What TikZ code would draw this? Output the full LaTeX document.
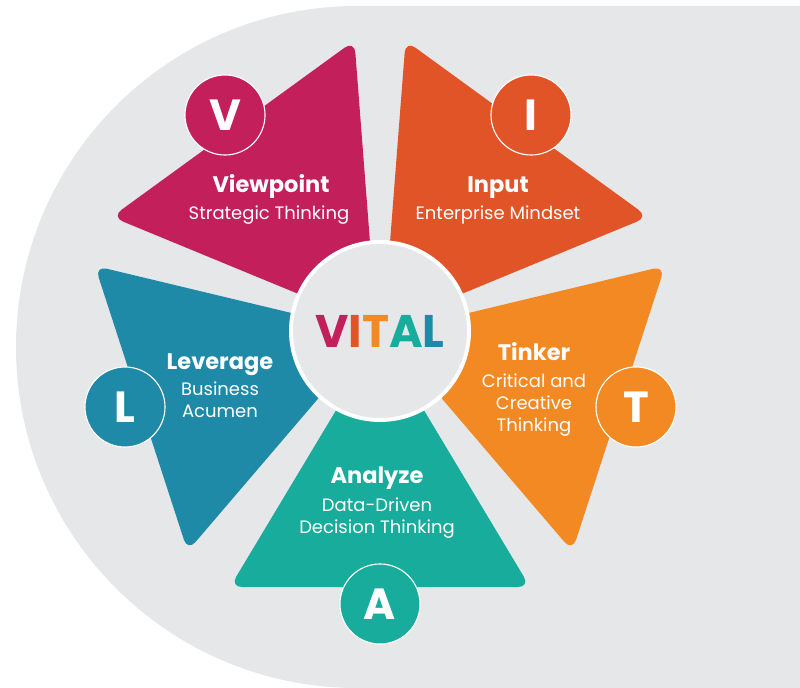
\documentclass[tikz,border=0pt]{standalone}
\usepackage{fontspec}
\setmainfont{Poppins}
\usetikzlibrary{positioning}
\definecolor{Magenta}{HTML}{C21F5B}
\definecolor{Rust}{HTML}{E05428}
\definecolor{Orange}{HTML}{F28923}
\definecolor{Teal}{HTML}{18AC9C}
\definecolor{Blue}{HTML}{1E8AA7}
\definecolor{Mist}{HTML}{E6E7E9}

\begin{document}
\begin{tikzpicture}[x=0.025cm,y=-0.025cm,
    petal/.style={rounded corners=0.3cm},
    badge/.style={circle,draw=white,line width=0.8pt,minimum size=2.0cm,inner sep=0pt,
      text=white,font=\bfseries\fontsize{31}{31}\selectfont},
    head/.style={text=white,anchor=base,inner sep=0pt,font=\bfseries\fontsize{16}{18}\selectfont},
    sub/.style={text=white,anchor=north,inner sep=0pt,align=center,font=\fontsize{12.8}{15.6}\selectfont}
  ]
  \useasboundingbox (0,0) rectangle (800,688);
  % grey backdrop, round on the left
  \fill[Mist] (357,347) circle (341);
  \fill[Mist] (357,6) rectangle (800,688);
  % five petals around the hub
  \foreach \ang/\dist/\col in {126/250/Magenta,54/250/Rust,-18/251/Orange,-90/256/Teal,198/251/Blue}
    \fill[\col,petal,shift={(380,331)},rotate=\ang] (6,0) -- (\dist,150) -- (\dist,-150) -- cycle;
  % hub
  \node[circle,fill=Mist,draw=white,line width=2.8pt,minimum size=4.45cm,inner sep=0pt,
    font=\bfseries\fontsize{32.5}{33}\selectfont] (hub) at (380,331)
    {\textcolor{Magenta}{V}\textcolor{Rust}{I}\textcolor{Orange}{T}\textcolor{Teal}{A}\textcolor{Blue}{L}};
  % letter badges
  \node[badge,fill=Magenta] (v) at (225,115) {V};
  \node[badge,fill=Rust] (i) at (531,115) {I};
  \node[badge,fill=Orange] (t) at (636,407) {T};
  \node[badge,fill=Teal] (a) at (380,604) {A};
  \node[badge,fill=Blue] (l) at (125,407) {L};
  % labels
  \node[head] (vhead) at (271,193) {Viewpoint};
  \node[sub] (vsub) at (269,206) {Strategic Thinking};
  \node[head] (ihead) at (498,193) {Input};
  \node[sub] (isub) at (498,206) {Enterprise Mindset};
  \node[head] (thead) at (534,360) {Tinker};
  \node[sub] (tsub) at (534,374) {Critical and\\Creative\\Thinking};
  \node[head] (lhead) at (220,369) {Leverage};
  \node[sub] (lsub) at (220,382) {Business\\Acumen};
  \node[head] (ahead) at (377,483) {Analyze};
  \node[sub] (asub) at (377,498) {Data-Driven\\Decision Thinking};
\end{tikzpicture}
\end{document}
